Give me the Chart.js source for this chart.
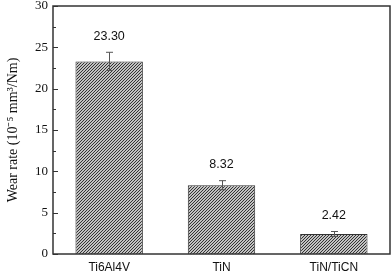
<!DOCTYPE html>
<html>
<head>
<meta charset="utf-8">
<script src="https://cdn.jsdelivr.net/npm/chart.js@4.4.1/dist/chart.umd.min.js"></script>
<style>
  html, body { margin: 0; padding: 0; background: #fff; }
  #wrap { width: 392px; height: 272px; }
</style>
</head>
<body>
<div id="wrap"><canvas id="wearChart" width="392" height="272"></canvas></div>
<script>
// data
const materials = ['Ti6Al4V', 'TiN', 'TiN/TiCN'];
const wearRates = [23.30, 8.32, 2.42];
const wearErrors = [1.1, 0.55, 0.3];
const valueLabels = ['23.30', '8.32', '2.42'];
const yTicks = [0, 5, 10, 15, 20, 25, 30];
const yMinorStep = 2.5;

// hatched fill for the bars
function makeHatch() {
  const c = document.createElement('canvas');
  c.width = 3; c.height = 3;
  const g = c.getContext('2d');
  g.fillStyle = '#ffffff';
  g.fillRect(0, 0, 3, 3);
  g.strokeStyle = '#2a2a2a';
  g.lineWidth = 1.1;
  g.beginPath();
  g.moveTo(-1, 4); g.lineTo(4, -1);
  g.moveTo(-1, 1); g.lineTo(1, -1);
  g.moveTo(2, 4); g.lineTo(4, 2);
  g.stroke();
  return g.createPattern(c, 'repeat');
}

const ctx = document.getElementById('wearChart').getContext('2d');
const hatch = makeHatch();

// frame, inside ticks, error bars, value labels, y title
const extrasPlugin = {
  id: 'extras',
  afterDatasetsDraw(chart) {
    const { ctx, chartArea: a, scales: { x, y } } = chart;
    ctx.save();

    // error bars
    ctx.strokeStyle = '#555';
    ctx.lineWidth = 1;
    wearRates.forEach((v, i) => {
      const cx = Math.round(x.getPixelForValue(i)) + 0.5;
      const top = y.getPixelForValue(v + wearErrors[i]);
      const bot = y.getPixelForValue(v - wearErrors[i]);
      ctx.beginPath();
      ctx.moveTo(cx, top); ctx.lineTo(cx, bot);
      ctx.moveTo(cx - 3.5, top); ctx.lineTo(cx + 3.5, top);
      ctx.moveTo(cx - 3.5, bot); ctx.lineTo(cx + 3.5, bot);
      ctx.stroke();
    });

    // value labels
    ctx.fillStyle = '#111';
    ctx.font = '12.5px "Liberation Sans", Arial, sans-serif';
    ctx.textAlign = 'center';
    ctx.textBaseline = 'middle';
    wearRates.forEach((v, i) => {
      const cx = x.getPixelForValue(i);
      const py = y.getPixelForValue(v + wearErrors[i]) - 16;
      ctx.fillText(valueLabels[i], cx, py);
    });

    // y ticks pointing inward
    ctx.strokeStyle = '#333';
    ctx.lineWidth = 1;
    for (let t = 0; t <= 30; t += yMinorStep) {
      const py = Math.round(y.getPixelForValue(t)) + 0.5;
      const len = (t % 5 === 0) ? 5 : 3;
      ctx.beginPath();
      ctx.moveTo(a.left, py); ctx.lineTo(a.left + len, py);
      ctx.stroke();
    }

    // box frame
    ctx.strokeStyle = '#333';
    ctx.lineWidth = 1.5;
    ctx.strokeRect(a.left, a.top, a.right - a.left, a.bottom - a.top);

    // y axis title
    ctx.fillStyle = '#111';
    ctx.font = '14px "Liberation Serif", "Times New Roman", serif';
    ctx.translate(13, (a.top + a.bottom) / 2);
    ctx.rotate(-Math.PI / 2);
    ctx.textAlign = 'center';
    ctx.textBaseline = 'middle';
    ctx.fillText('Wear rate (10\u207B\u2075 mm\u00B3/Nm)', 0, 0);
    ctx.restore();
  }
};

new Chart(ctx, {
  type: 'bar',
  data: {
    labels: materials,
    datasets: [{
      data: wearRates,
      backgroundColor: hatch,
      borderColor: '#333',
      borderWidth: 1,
      categoryPercentage: 1,
      barPercentage: 0.6
    }]
  },
  options: {
    responsive: false,
    animation: false,
    devicePixelRatio: 1,
    layout: { padding: { top: 6, right: 2, left: 0, bottom: 0 } },
    plugins: {
      legend: { display: false },
      tooltip: { enabled: false }
    },
    scales: {
      x: {
        grid: { display: false, drawTicks: false },
        border: { display: false },
        ticks: {
          color: '#111',
          padding: 6,
          font: { family: '"Liberation Sans", Arial, sans-serif', size: 12 }
        },
        afterFit(scale) {
          scale.height = 18;
          scale.paddingLeft = 0;
          scale.paddingRight = 0;
        }
      },
      y: {
        min: 0,
        max: 30,
        afterBuildTicks(scale) { scale.ticks = yTicks.map(v => ({ value: v })); },
        grid: { display: false, drawTicks: false },
        border: { display: false },
        ticks: {
          color: '#111',
          padding: 5,
          font: { family: '"Liberation Serif", "Times New Roman", serif', size: 13 }
        },
        afterFit(scale) {
          scale.width = 53;
          scale.paddingTop = 0;
          scale.paddingBottom = 0;
        }
      }
    }
  },
  plugins: [extrasPlugin]
});
</script>
</body>
</html>
